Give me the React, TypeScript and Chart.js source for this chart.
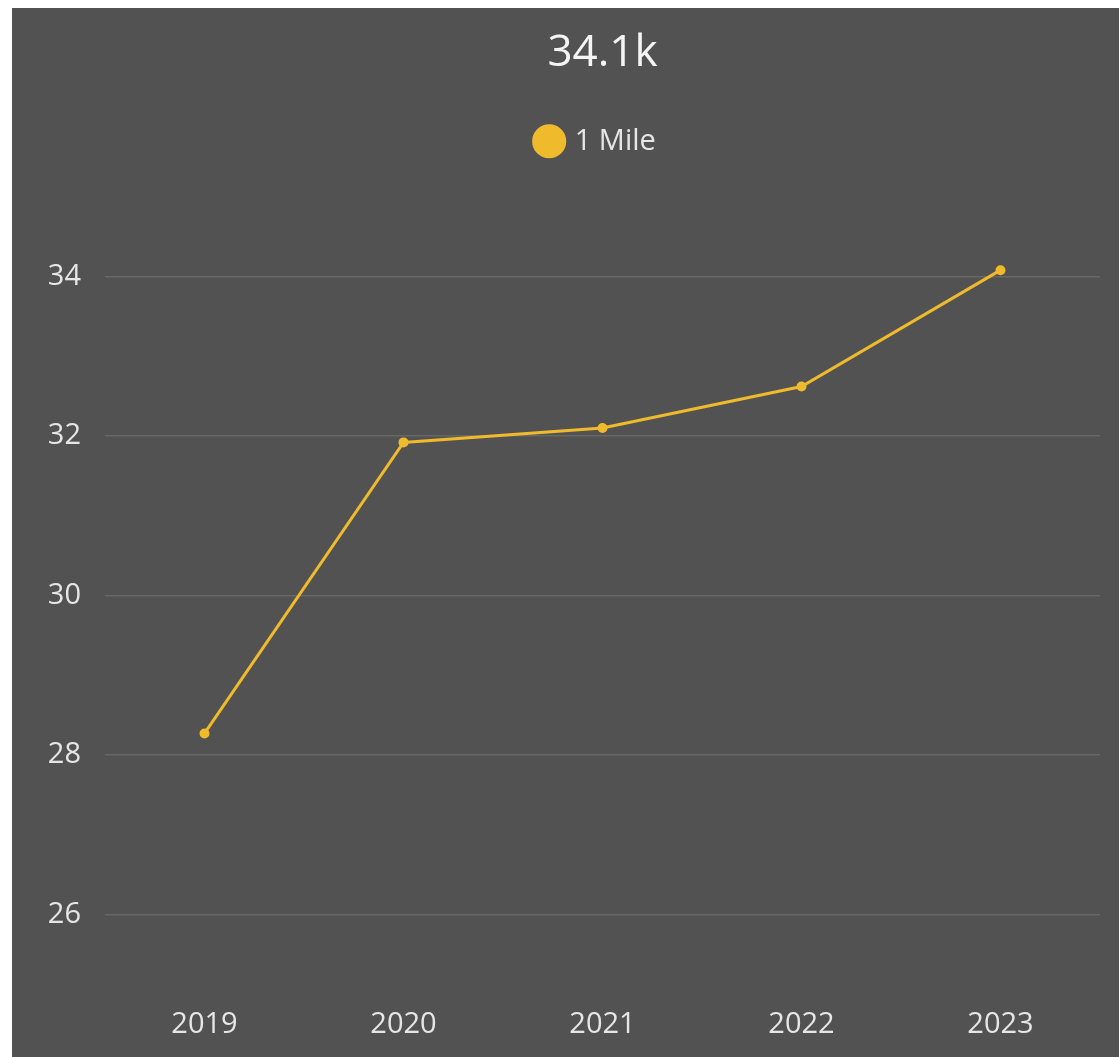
import React, { useEffect, useRef } from "react";
import { Chart, registerables } from "chart.js";

Chart.register(...registerables);

const categories = ["2019", "2020", "2021", "2022", "2023"];
const seriesName = "1 Mile";
const seriesValues = [28.27, 31.92, 32.1, 32.62, 34.08];
const yTicks = [26, 28, 30, 32, 34];
const titleText = "34.1k";

const LINE = "#efba2c";
const TEXT = "#e6e6e6";
const FONT = "'Open Sans', sans-serif";

const centerOnArea = {
  id: "centerOnArea",
  afterInit(chart: any) {
    const legend = chart.legend;
    if (legend && !legend.__patched) {
      const fit = legend.fit;
      legend.fit = function () {
        fit.call(this);
        this.height += 31;
      };
      legend.__patched = true;
    }
  },
  afterLayout(chart: any) {
    const a = chart.chartArea;
    if (chart.titleBlock) {
      chart.titleBlock.left = a.left;
      chart.titleBlock.right = a.right;
      chart.titleBlock.width = a.right - a.left;
    }
    if (chart.legend) {
      chart.legend.left = a.left - 11;
      chart.legend.right = a.right;
      chart.legend.width = a.right - a.left + 11;
    }
  },
};

export default function App() {
  const ref = useRef<HTMLCanvasElement | null>(null);
  useEffect(() => {
    if (!ref.current) return;
    const chart = new Chart(ref.current, {
      type: "line",
      data: {
        labels: categories,
        datasets: [
          {
            label: seriesName,
            data: seriesValues,
            borderColor: LINE,
            backgroundColor: LINE,
            pointBackgroundColor: LINE,
            pointBorderColor: LINE,
            borderWidth: 3,
            pointRadius: 3.5,
            tension: 0,
          },
        ],
      },
      options: {
        animation: false,
        responsive: false,
        maintainAspectRatio: false,
        layout: { padding: { left: 22, right: 19, top: 19, bottom: 10 } },
        plugins: {
          title: {
            display: true,
            text: titleText,
            color: "#f4f4f4",
            font: { family: FONT, size: 44, weight: "normal" },
            padding: { top: 0, bottom: 37 },
          },
          legend: {
            display: true,
            labels: {
              color: TEXT,
              font: { family: FONT, size: 29 },
              usePointStyle: true,
              pointStyle: "circle",
              boxWidth: 22,
              boxHeight: 22,
              padding: 10,
            },
          },
          tooltip: { enabled: false },
        },
        scales: {
          x: {
            offset: true,
            grid: { display: false },
            border: { display: false },
            ticks: { color: TEXT, font: { family: FONT, size: 29 }, padding: 5 },
          },
          y: {
            min: 25,
            max: 35,
            afterBuildTicks: (axis: any) => {
              axis.ticks = yTicks.map((v) => ({ value: v }));
            },
            afterFit: (axis: any) => {
              axis.width = 71;
            },
            grid: { color: "rgba(255,255,255,0.12)", lineWidth: 1.5, drawTicks: false },
            border: { display: false },
            ticks: { color: TEXT, font: { family: FONT, size: 29 }, padding: 24 },
          },
        },
      },
      plugins: [centerOnArea],
    });
    return () => chart.destroy();
  }, []);
  return (
    <div
      style={{
        position: "absolute",
        left: 12,
        top: 8,
        width: 1107,
        height: 1049,
        background: "#525252",
      }}
    >
      <canvas ref={ref} width={1107} height={1049} style={{ display: "block" }} />
    </div>
  );
}
